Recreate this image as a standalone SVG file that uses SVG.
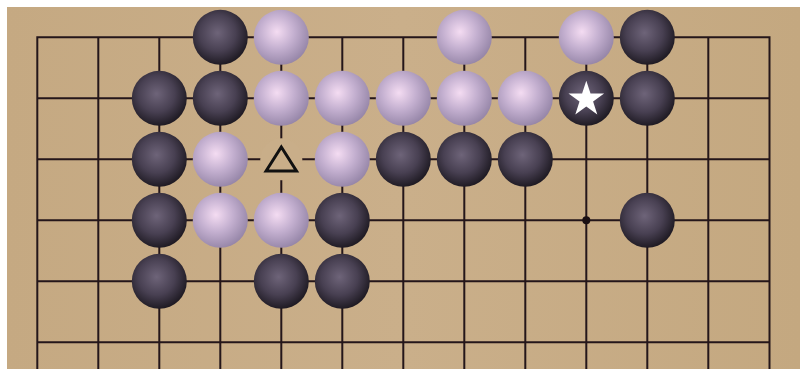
<svg xmlns="http://www.w3.org/2000/svg" width="806" height="369" viewBox="0 0 806 369">
<defs>
<radialGradient id="gb" cx="0.45" cy="0.42" r="0.6">
<stop offset="0" stop-color="#6e6479"/>
<stop offset="0.55" stop-color="#484052"/>
<stop offset="1" stop-color="#1c1820"/>
</radialGradient>
<radialGradient id="gw" cx="0.42" cy="0.4" r="0.62">
<stop offset="0" stop-color="#f4dcf2"/>
<stop offset="0.5" stop-color="#c4b0d0"/>
<stop offset="1" stop-color="#9686a8"/>
</radialGradient>
<linearGradient id="wood" x1="0" y1="0" x2="1" y2="0">
<stop offset="0" stop-color="#c5a982"/>
<stop offset="0.5" stop-color="#caaf8a"/>
<stop offset="1" stop-color="#c4a880"/>
</linearGradient>
<style>
.g{stroke:#24161a;stroke-width:2;fill:none}
.b{fill:url(#gb)}
.w{fill:url(#gw)}
</style>
</defs>
<rect width="806" height="369" fill="#ffffff"/>
<rect x="7" y="7" width="793" height="362" fill="url(#wood)"/>
<g id="grid" class="g">
<path d="M37.3 369V37.3H769.5V369"/>
<path d="M98.3 37.3V369M159.3 37.3V369M220.3 37.3V369M281.3 37.3V369M342.3 37.3V369M403.3 37.3V369M464.3 37.3V369M525.3 37.3V369M586.3 37.3V369M647.3 37.3V369M708.3 37.3V369"/>
<path d="M37.3 98.3H769.5M37.3 159.3H769.5M37.3 220.3H769.5M37.3 281.3H769.5M37.3 342.3H769.5"/>
</g>
<circle id="hoshi" cx="586.3" cy="220.3" r="4" fill="#1a1014"/>
<g id="stones">
<circle class="b" cx="220.3" cy="37.3" r="27.5"/>
<circle class="w" cx="281.3" cy="37.3" r="27.5"/>
<circle class="w" cx="464.3" cy="37.3" r="27.5"/>
<circle class="w" cx="586.3" cy="37.3" r="27.5"/>
<circle class="b" cx="647.3" cy="37.3" r="27.5"/>
<circle class="b" cx="159.3" cy="98.3" r="27.5"/>
<circle class="b" cx="220.3" cy="98.3" r="27.5"/>
<circle class="w" cx="281.3" cy="98.3" r="27.5"/>
<circle class="w" cx="342.3" cy="98.3" r="27.5"/>
<circle class="w" cx="403.3" cy="98.3" r="27.5"/>
<circle class="w" cx="464.3" cy="98.3" r="27.5"/>
<circle class="w" cx="525.3" cy="98.3" r="27.5"/>
<circle class="b" cx="586.3" cy="98.3" r="27.5"/>
<circle class="b" cx="647.3" cy="98.3" r="27.5"/>
<circle class="b" cx="159.3" cy="159.3" r="27.5"/>
<circle class="w" cx="220.3" cy="159.3" r="27.5"/>
<circle class="w" cx="342.3" cy="159.3" r="27.5"/>
<circle class="b" cx="403.3" cy="159.3" r="27.5"/>
<circle class="b" cx="464.3" cy="159.3" r="27.5"/>
<circle class="b" cx="525.3" cy="159.3" r="27.5"/>
<circle class="b" cx="159.3" cy="220.3" r="27.5"/>
<circle class="w" cx="220.3" cy="220.3" r="27.5"/>
<circle class="w" cx="281.3" cy="220.3" r="27.5"/>
<circle class="b" cx="342.3" cy="220.3" r="27.5"/>
<circle class="b" cx="647.3" cy="220.3" r="27.5"/>
<circle class="b" cx="159.3" cy="281.3" r="27.5"/>
<circle class="b" cx="281.3" cy="281.3" r="27.5"/>
<circle class="b" cx="342.3" cy="281.3" r="27.5"/>
</g>
<g id="triangle-mark">
<circle cx="281.3" cy="159.3" r="21" fill="#c9ae89"/>
<polygon points="281.3,147 296.5,171 266.1,171" fill="none" stroke="#111" stroke-width="3" stroke-linejoin="miter"/>
</g>
<g id="star-mark">
<polygon fill="#ffffff" points="586.3,80.7 590.5,93.6 604.1,93.6 593.1,101.6 597.3,114.5 586.3,106.5 575.3,114.5 579.5,101.6 568.5,93.6 582.1,93.6"/>
</g>
</svg>
